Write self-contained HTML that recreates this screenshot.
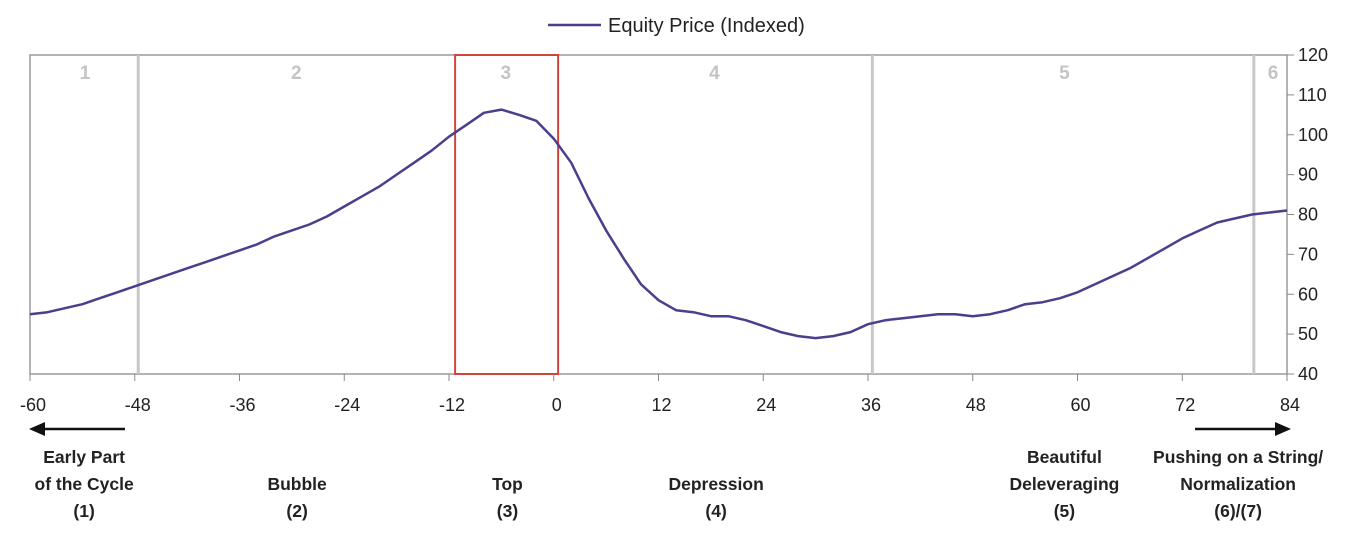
<!DOCTYPE html>
<html><head><meta charset="utf-8"><style>
html,body{margin:0;padding:0;background:#fff;}
svg{display:block;font-family:"Liberation Sans",sans-serif;}
</style></head><body>
<svg id="chart" width="1365" height="551" viewBox="0 0 1365 551"></svg>
<script>
const months = [-60,-58,-56,-54,-52,-50,-48,-46,-44,-42,-40,-38,-36,-34,-32,-30,-28,-26,-24,-22,-20,-18,-16,-14,-12,-10,-8,-6,-4,-2,0,2,4,6,8,10,12,14,16,18,20,22,24,26,28,30,32,34,36,38,40,42,44,46,48,50,52,54,56,58,60,62,64,66,68,70,72,74,76,78,80,82,84];
const equityPrice = [55,55.5,56.5,57.5,59,60.5,62,63.5,65,66.5,68,69.5,71,72.5,74.5,76,77.5,79.5,82,84.5,87,90,93,96,99.5,102.5,105.5,106.3,105,103.5,99,93,84,76,69,62.5,58.5,56,55.5,54.5,54.5,53.5,52,50.5,49.5,49,49.5,50.5,52.5,53.5,54,54.5,55,55,54.5,55,56,57.5,58,59,60.5,62.5,64.5,66.5,69,71.5,74,76,78,79,80,80.5,81];
const xTicks = [-60,-48,-36,-24,-12,0,12,24,36,48,60,72,84];
const yTicks = [40,50,60,70,80,90,100,110,120];
const phaseDividers = [-47.6,36.5,80.2];
const phaseNumbers = ["1","2","3","4","5","6"];
const phaseNumberPos = [-53.7,-29.5,-5.5,18.4,58.5,82.4];
const phaseLabels = [["Early Part","of the Cycle","(1)"],["Bubble","(2)"],["Top","(3)"],["Depression","(4)"],["Beautiful","Deleveraging","(5)"],["Pushing on a String/","Normalization","(6)/(7)"]];
const phaseLabelPos = [-53.8,-29.4,-5.3,18.6,58.5,78.4];
const topBox = [-11.3,0.5];

const L=30,R=1287,T=55,B=374;
const xMin=-60,xMax=84,yMin=40,yMax=120;
const sx=v=>L+(v-xMin)/(xMax-xMin)*(R-L);
const sy=v=>B-(v-yMin)/(yMax-yMin)*(B-T);
const svg=document.getElementById('chart');
const NS="http://www.w3.org/2000/svg";
function mk(tag,attrs,parent){const e=document.createElementNS(NS,tag);for(const k in attrs)e.setAttribute(k,attrs[k]);(parent||svg).appendChild(e);return e;}

let f=mk('rect',{x:L,y:T,width:R-L,height:B-T,fill:'none',stroke:'#9a9a9a','stroke-width':1.5});



phaseDividers.forEach((d,i)=>{
 const l=mk('line',{x1:sx(d),x2:sx(d),y1:T,y2:B,stroke:'#c8c8c8','stroke-width':3});
 
 
});
phaseNumbers.forEach((n,i)=>{
 const t=mk('text',{x:sx(phaseNumberPos[i]),y:79,'text-anchor':'middle','font-size':19,'font-weight':'bold',fill:'#c4c4c4'});
 t.textContent=n;
 
 
});
const bx=mk('rect',{x:sx(topBox[0]),y:T,width:sx(topBox[1])-sx(topBox[0]),height:B-T,fill:'none',stroke:'#d0453b','stroke-width':2});



xTicks.forEach(v=>{
 const tk=mk('line',{x1:sx(v),x2:sx(v),y1:B,y2:B+7,stroke:'#888','stroke-width':1});
 
 
 const t=mk('text',{x:sx(v)+3,y:411,'text-anchor':'middle','font-size':18,fill:'#222'});
 t.textContent=v;
 
 
});
yTicks.forEach(v=>{
 const tk=mk('line',{x1:R,x2:R+7,y1:sy(v),y2:sy(v),stroke:'#888','stroke-width':1});
 
 
 const t=mk('text',{x:R+11,y:sy(v)+6,'text-anchor':'start','font-size':18,fill:'#222'});
 t.textContent=v;
 
 
});

const d=months.map((m,i)=>(i?'L':'M')+sx(m).toFixed(1)+' '+sy(equityPrice[i]).toFixed(1)).join(' ');
const p=mk('path',{d:d,fill:'none',stroke:'#4a3f8c','stroke-width':2.5,'stroke-linejoin':'round'});



const lg=mk('g',{});


mk('line',{x1:548,x2:601,y1:25,y2:25,stroke:'#4a3f8c','stroke-width':2.5},lg);
const lt=mk('text',{x:608,y:32,'font-size':20,fill:'#222'},lg);
lt.textContent='Equity Price (Indexed)';

const a1=mk('g',{});


mk('line',{x1:42,x2:125,y1:429,y2:429,stroke:'#111','stroke-width':2.5},a1);
mk('polygon',{points:'29,429 45,422 45,436',fill:'#111'},a1);
const a2=mk('g',{});


mk('line',{x1:1195,x2:1278,y1:429,y2:429,stroke:'#111','stroke-width':2.5},a2);
mk('polygon',{points:'1291,429 1275,422 1275,436',fill:'#111'},a2);

phaseLabels.forEach((lines,i)=>{
 const g=mk('g',{});
 
 
 const off=3-lines.length;
 lines.forEach((s,j)=>{
  const t=mk('text',{x:sx(phaseLabelPos[i]),y:463+(j+off)*27,'text-anchor':'middle','font-size':17.5,'font-weight':'bold',fill:'#222'},g);
  t.textContent=s;
 });
});
</script>
</body></html>
